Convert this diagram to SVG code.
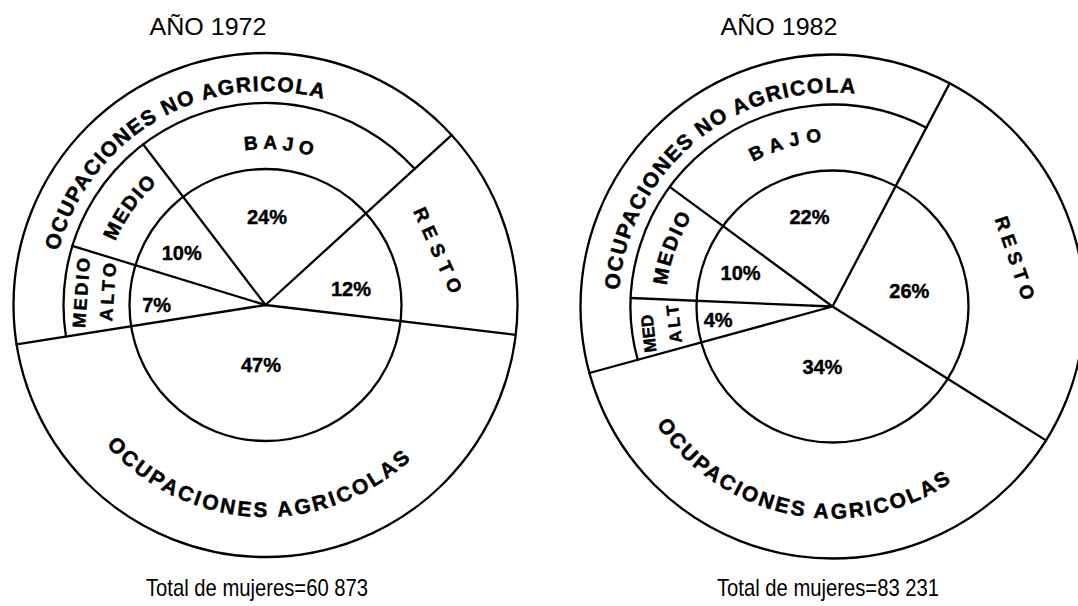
<svg xmlns="http://www.w3.org/2000/svg" xmlns:xlink="http://www.w3.org/1999/xlink" width="1078" height="606" viewBox="0 0 1078 606">
<style>
.ln{fill:none;stroke:#000;stroke-width:2.3;stroke-linecap:round}
.lab{font-family:"Liberation Sans",Arial,sans-serif;font-weight:bold;fill:#000;stroke:#000;stroke-width:0.5}
.pct{font-family:"Liberation Sans",Arial,sans-serif;font-weight:bold;font-size:20px;fill:#000;stroke:#000;stroke-width:0.4;text-anchor:middle}
.ttl{font-family:"Liberation Sans",Arial,sans-serif;font-size:24px;fill:#000;text-anchor:middle}
</style>
<defs>
<path id="p1top" d="M 58.4 251.1 A 214 214 0 0 1 323.8 99.1"/>
<path id="p1bot" d="M 106.3 445 A 212 212 0 0 0 411.2 459"/>
<path id="p1bajo" d="M 244.6 150.4 A 156 156 0 0 1 310.1 155.5"/>
<path id="p1medio" d="M 115.3 241.6 A 163 163 0 0 1 156.4 183.9"/>
<path id="p2top" d="M 619.1 290.1 A 214 214 0 0 1 854.9 93.7"/>
<path id="p2bot" d="M 656.3 424.4 A 212 212 0 0 0 951.4 482"/>
<path id="p2bajo" d="M 753 161.9 A 165 165 0 0 1 820.4 141.9"/>
<path id="p2medio" d="M 666.8 285.6 A 167 167 0 0 1 691.3 217.3"/>
</defs>
<rect width="1078" height="606" fill="#fff"/>

<g id="connectors">
<path class="ln" d="M 265.5 305 L 451.6 135.1 M 265.5 305 L 515.7 334.8 M 265.5 305 L 16.6 344.4 M 265.5 305 L 143.1 144.3 M 265.5 305 L 72.3 245.9"/>
<path class="ln" d="M 832.5 306.5 L 949.6 83.4 M 832.5 306.5 L 1046 440.4 M 832.5 306.5 L 589.4 373 M 832.5 306.5 L 630.7 298 M 832.5 306.5 L 669.7 186.9"/>
</g>

<g id="chart1972">
<circle class="ln" cx="265.5" cy="305" r="252"/>
<circle class="ln" cx="265.5" cy="305" r="136"/>
<path class="ln" d="M 66 336.6 A 202 202 0 0 1 414.7 168.8"/>
</g>
<g id="chart1982">
<circle class="ln" cx="832.5" cy="306.5" r="252"/>
<circle class="ln" cx="832.5" cy="306.5" r="136"/>
<path class="ln" d="M 637.7 359.8 A 202 202 0 0 1 926.4 127.7"/>
</g>

<g id="labels1972">
<text class="lab" font-size="21"><textPath xlink:href="#p1top" href="#p1top" textLength="340" lengthAdjust="spacing">OCUPACIONES NO AGRICOLA</textPath></text>
<text class="lab" font-size="21"><textPath xlink:href="#p1bot" href="#p1bot" textLength="340" lengthAdjust="spacing">OCUPACIONES AGRICOLAS</textPath></text>
<text class="lab" font-size="19"><textPath xlink:href="#p1bajo" href="#p1bajo" textLength="68" lengthAdjust="spacing">BAJO</textPath></text>
<text class="lab" font-size="20"><textPath xlink:href="#p1medio" href="#p1medio" textLength="72" lengthAdjust="spacing">MEDIO</textPath></text>
<text class="lab" font-size="18" text-anchor="middle" transform="translate(81,293) rotate(-86)" y="6.5" textLength="70" lengthAdjust="spacing">MEDIO</text>
<text class="lab" font-size="18" text-anchor="middle" transform="translate(107.6,292) rotate(-86)" y="6.5" textLength="58" lengthAdjust="spacing">ALTO</text>
<text class="lab" font-size="19" text-anchor="middle" transform="translate(438.2,250) rotate(65.7)" y="7" textLength="92" lengthAdjust="spacing">RESTO</text>
<text class="pct" x="267" y="224">24%</text>
<text class="pct" x="181.7" y="260">10%</text>
<text class="pct" x="351" y="296">12%</text>
<text class="pct" x="156.7" y="311.5">7%</text>
<text class="pct" x="261" y="372">47%</text>
</g>

<g id="labels1982">
<text class="lab" font-size="21"><textPath xlink:href="#p2top" href="#p2top" textLength="342" lengthAdjust="spacing">OCUPACIONES NO AGRICOLA</textPath></text>
<text class="lab" font-size="21"><textPath xlink:href="#p2bot" href="#p2bot" textLength="334" lengthAdjust="spacing">OCUPACIONES AGRICOLAS</textPath></text>
<text class="lab" font-size="19"><textPath xlink:href="#p2bajo" href="#p2bajo" textLength="72" lengthAdjust="spacing">BAJO</textPath></text>
<text class="lab" font-size="20"><textPath xlink:href="#p2medio" href="#p2medio" textLength="74" lengthAdjust="spacing">MEDIO</textPath></text>
<text class="lab" font-size="17" text-anchor="middle" transform="translate(648.5,333.5) rotate(-96.5)" y="6" textLength="38" lengthAdjust="spacing">MED</text>
<text class="lab" font-size="17" text-anchor="middle" transform="translate(674,324) rotate(-96.5)" y="6" textLength="38" lengthAdjust="spacing">ALT</text>
<text class="lab" font-size="19" text-anchor="middle" transform="translate(1015.3,257.8) rotate(71.1)" y="7" textLength="87" lengthAdjust="spacing">RESTO</text>
<text class="pct" x="809.5" y="224">22%</text>
<text class="pct" x="740.6" y="280">10%</text>
<text class="pct" x="909.3" y="298">26%</text>
<text class="pct" x="718.2" y="327">4%</text>
<text class="pct" x="822.4" y="373.5">34%</text>
</g>

<g id="titles">
<text class="ttl" x="208" y="35" textLength="117" lengthAdjust="spacingAndGlyphs">AÑO 1972</text>
<text class="ttl" x="779" y="35" textLength="117" lengthAdjust="spacingAndGlyphs">AÑO 1982</text>
<text class="ttl" x="257" y="596" textLength="222" lengthAdjust="spacingAndGlyphs">Total de mujeres=60 873</text>
<text class="ttl" x="828" y="596" textLength="222" lengthAdjust="spacingAndGlyphs">Total de mujeres=83 231</text>
</g>
</svg>
